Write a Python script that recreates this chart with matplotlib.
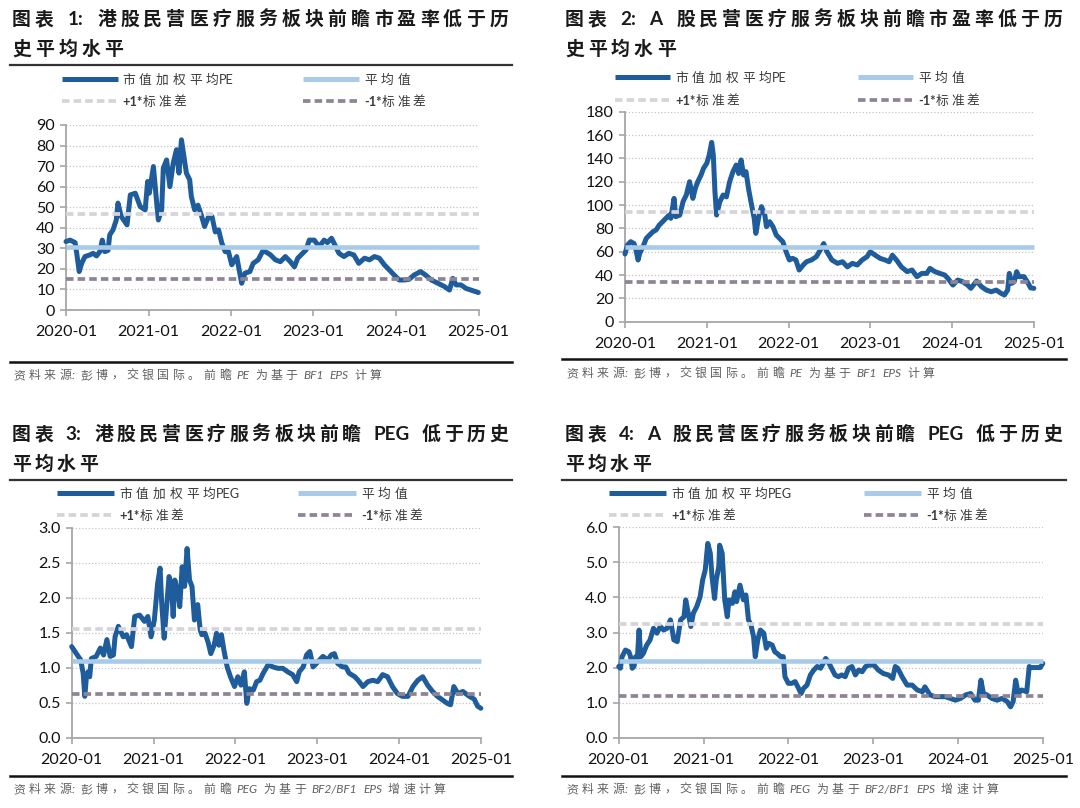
import re
import numpy as np
import pandas as pd
import matplotlib
matplotlib.use("Agg")
import matplotlib.pyplot as plt
from matplotlib.lines import Line2D
from matplotlib.ticker import MultipleLocator, FormatStrFormatter

# ---------------- data (time in years after 2020-01) ----------------
hk_pe_t = [0.00,0.05,0.11,0.13,0.16,0.19,0.23,0.29,0.33,0.37,
           0.41,0.44,0.47,0.51,0.53,0.57,0.61,0.63,0.67,0.74,
           0.78,0.84,0.90,0.96,0.99,1.01,1.06,1.10,1.12,1.16,
           1.18,1.22,1.26,1.30,1.34,1.37,1.40,1.43,1.46,1.50,
           1.52,1.56,1.60,1.64,1.68,1.73,1.77,1.81,1.85,1.89,
           1.93,1.97,2.01,2.07,2.13,2.17,2.23,2.27,2.33,2.39,
           2.45,2.48,2.54,2.60,2.66,2.72,2.77,2.81,2.87,2.91,
           2.95,3.01,3.07,3.13,3.17,3.22,3.26,3.31,3.37,3.43,
           3.49,3.55,3.62,3.68,3.74,3.80,3.86,3.92,3.98,4.04,
           4.10,4.16,4.22,4.30,4.36,4.43,4.51,4.59,4.65,4.69,
           4.73,4.79,4.85,4.91,5.00]
hk_pe = [33.3,34,32.8,27.6,18.7,22.7,26,26.8,27.6,26.3,
         28.4,34,28.4,29,36.5,39,43.8,52,45.5,41.4,
         56,56.8,50.3,48.7,62.5,56.8,69.8,52,43.8,48.7,
         69,73,60,71.4,78,66.6,82.8,74.7,66.6,63.3,
         55.2,48.7,51,46.3,40.6,45.5,45.5,38,39,32.5,
         28.4,28.4,22,26,13,17.9,18.7,22.7,24.4,29,
         27.6,26.8,24.4,23.5,26,23.5,21,25.2,27.6,29.2,
         34,34,30.8,34,32.8,34.9,31.7,27.6,26,27.6,
         26.8,22.7,25.2,24.4,26,25.2,22,19.5,17,14.6,
         14.6,14.9,17,18.7,17,14.6,13,11.4,9.7,15.4,
         12.2,12.2,10.5,9.7,8.5]
hk_pe_stats = [30.7, 46.8, 15.1]   # mean, +1 std, -1 std

a_pe_t = [0.00,0.03,0.07,0.11,0.13,0.16,0.18,0.22,0.26,0.30,
          0.34,0.38,0.42,0.46,0.50,0.54,0.56,0.60,0.62,0.67,
          0.71,0.75,0.79,0.83,0.86,0.89,0.93,0.96,1.00,1.03,
          1.06,1.08,1.10,1.12,1.16,1.20,1.24,1.28,1.32,1.36,
          1.39,1.42,1.45,1.48,1.51,1.54,1.58,1.60,1.64,1.67,
          1.71,1.73,1.77,1.81,1.85,1.89,1.93,1.97,2.01,2.05,
          2.09,2.13,2.18,2.22,2.28,2.34,2.40,
          2.43,2.47,2.53,2.60,2.66,2.72,2.78,2.84,2.90,2.96,
          3.00,3.06,3.12,3.18,3.23,3.27,3.32,3.38,3.45,3.51,
          3.57,3.63,3.69,3.73,3.79,3.85,3.91,3.95,4.01,4.07,
          4.13,4.19,4.23,4.30,4.36,4.42,4.48,4.54,4.60,4.64,
          4.68,4.70,4.73,4.76,4.79,4.82,4.88,4.93,4.96,5.00]
a_pe = [58,65.7,68.6,67,62.9,52.9,58.6,64.3,71.4,74.3,
        77,78.6,82.9,85.7,88.6,91.4,88.6,105.7,90,91.4,
        102.9,108.6,120,105.7,114.3,120,125.7,131.4,135.7,142.9,
        153.7,142.9,111.4,91.4,102.9,108.6,107,120,128.6,134.3,
        127,138.6,125.7,128.6,114.3,102.9,88.6,75.7,91.4,98.6,
        91.4,81.4,85.7,81.4,74.3,71.4,68.6,60,52.9,54.3,
        52.9,44.3,48.6,51.4,52.9,55.7,62.9,
        67,60,52.9,50,51.4,47,50,48.6,52.9,55.7,
        60,57,54.3,52.9,51.4,57,52.9,47,42.9,44.3,
        38.6,41.4,41.4,45.7,42.9,41.4,40,37.1,31.4,35.7,
        34.3,31.4,28.6,34.9,30,27.1,25.7,27.1,24.3,22.9,
        27.1,41.4,32.9,34.3,42.9,38.6,38.6,33,29,28.6]
a_pe_stats = [64.3, 94.3, 34.3]

hk_peg_t = [0.00,0.04,0.08,0.11,0.14,0.16,0.18,0.20,0.22,0.24,
            0.30,0.35,0.39,0.43,0.47,0.51,0.53,0.57,0.63,0.67,
            0.73,0.77,0.83,0.89,0.93,0.97,1.01,1.05,1.08,1.10,
            1.13,1.16,1.19,1.22,1.24,1.26,1.30,1.32,1.35,1.38,
            1.41,1.44,1.47,1.50,1.54,1.57,1.59,1.63,1.67,1.70,
            1.74,1.77,1.80,1.83,1.86,1.90,1.94,1.99,2.03,2.07,
            2.11,2.14,2.17,2.22,2.26,2.30,2.34,2.40,2.46,2.52,
            2.58,2.64,2.70,2.75,2.78,2.83,2.87,2.91,2.95,2.99,
            3.03,3.07,3.13,3.17,3.21,3.25,3.31,3.35,3.39,3.46,
            3.50,3.56,3.62,3.68,3.74,3.80,3.86,3.92,3.98,4.04,
            4.11,4.17,4.23,4.29,4.35,4.41,4.47,4.53,4.59,4.63,
            4.67,4.72,4.78,4.86,4.92,4.96,5.00]
hk_peg = [1.30,1.23,1.16,1.11,0.92,0.59,0.87,0.94,0.87,1.13,
          1.16,1.28,1.18,1.40,1.16,1.18,1.44,1.59,1.44,1.47,
          1.30,1.73,1.75,1.66,1.73,1.44,1.68,2.20,2.42,1.92,
          1.42,1.87,2.30,2.16,1.73,2.25,2.06,1.87,2.44,2.16,
          2.70,2.25,2.16,1.68,1.90,1.54,1.47,1.49,1.35,1.20,
          1.32,1.49,1.32,1.47,1.25,1.01,0.87,0.73,0.87,0.75,
          0.94,0.49,0.70,0.68,0.80,0.82,0.92,1.04,1.01,0.99,
          0.99,0.94,0.90,0.80,0.94,1.01,1.18,1.23,1.01,1.06,
          1.11,1.16,1.11,1.18,1.20,1.06,1.01,1.01,0.92,0.87,
          0.82,0.73,0.80,0.82,0.80,0.90,0.87,0.73,0.63,0.59,
          0.59,0.73,0.82,0.87,0.75,0.66,0.59,0.54,0.49,0.47,
          0.73,0.63,0.66,0.59,0.55,0.45,0.42]
hk_peg_stats = [1.10, 1.55, 0.63]

a_peg_t = [0.00,0.02,0.04,0.08,0.12,0.14,0.16,0.18,0.20,0.22,
           0.24,0.26,0.29,0.33,0.37,0.41,0.45,0.49,0.53,0.57,
           0.61,0.65,0.69,0.73,0.77,0.79,0.82,0.85,0.88,0.92,
           0.96,0.99,1.02,1.05,1.08,1.10,1.13,1.15,1.18,1.19,
           1.22,1.25,1.28,1.30,1.34,1.37,1.39,1.43,1.47,1.50,
           1.53,1.56,1.59,1.61,1.64,1.67,1.71,1.74,1.77,1.81,
           1.84,1.87,1.91,1.94,1.96,2.00,2.04,2.08,2.12,2.15,
           2.18,2.22,2.26,2.30,2.34,2.38,2.42,2.44,2.48,2.51,
           2.55,2.59,2.63,2.67,2.71,2.75,2.79,2.83,2.87,2.91,
           2.95,3.01,3.06,3.12,3.18,3.23,3.26,3.29,3.34,3.40,
           3.46,3.52,3.58,3.61,3.67,3.73,3.79,3.85,3.91,3.97,
           4.03,4.09,4.15,4.20,4.24,4.27,4.30,4.34,4.40,4.46,
           4.52,4.58,4.62,4.65,4.68,4.71,4.75,4.81,4.84,
           4.86,4.97,5.00]
a_peg = [2.03,1.98,2.31,2.50,2.45,2.31,1.98,2.03,2.31,2.26,
         3.07,2.31,2.40,2.64,2.79,3.12,2.98,3.17,3.07,3.12,
         3.36,2.79,2.74,3.36,3.45,3.93,3.55,3.17,3.55,3.74,
         4.02,4.50,4.78,5.54,5.26,4.59,3.97,4.50,4.88,5.49,
         5.26,3.93,3.45,3.93,3.83,4.16,3.88,4.35,3.93,4.07,
         3.36,3.21,2.88,2.31,2.79,3.07,2.98,2.55,2.69,2.64,
         2.45,2.40,2.31,2.31,1.74,1.55,1.55,1.60,1.41,1.26,
         1.41,1.50,1.79,1.93,2.03,1.98,2.17,2.26,2.12,1.98,
         1.79,1.74,1.79,1.74,1.98,2.03,1.79,1.93,1.88,2.03,
         2.07,2.07,1.93,1.83,1.79,1.69,2.03,1.98,1.74,1.50,
         1.50,1.36,1.31,1.45,1.22,1.17,1.17,1.17,1.12,1.07,
         1.12,1.22,1.26,1.07,1.07,1.64,1.26,1.22,1.12,1.07,
         1.12,1.03,0.88,1.03,1.64,1.26,1.36,1.31,2.03,
         2.00,2.00,2.12]
a_peg_stats = [2.20, 3.23, 1.19]

titles = [("图表 1: 港股民营医疗服务板块前瞻市盈率低于历", "史平均水平"),
          ("图表 2: A 股民营医疗服务板块前瞻市盈率低于历", "史平均水平"),
          ("图表 3: 港股民营医疗服务板块前瞻 PEG 低于历史", "平均水平"),
          ("图表 4: A 股民营医疗服务板块前瞻 PEG 低于历史", "平均水平")]
series_labels = ["市值加权平均PE", "市值加权平均PE", "市值加权平均PEG", "市值加权平均PEG"]
stat_labels = ["平均值", "+1*标准差", "-1*标准差"]
notes = ["资料来源: 彭博，交银国际。前瞻 PE 为基于 BF1 EPS 计算",
         "资料来源: 彭博，交银国际。前瞻 PE 为基于 BF1 EPS 计算",
         "资料来源: 彭博，交银国际。前瞻 PEG 为基于 BF2/BF1 EPS 增速计算",
         "资料来源: 彭博，交银国际。前瞻 PEG 为基于 BF2/BF1 EPS 增速计算"]
year_ticks = ["2020-01", "2021-01", "2022-01", "2023-01", "2024-01", "2025-01"]

# ---------------- styling ----------------
W, H, DPI = 1080, 808, 100
CJK = "Noto Sans CJK SC"
LAT = "Lato"
C_MAIN = "#1F5C9C"
C_MEAN = "#A9CBEA"
C_UP = "#D6D4D9"
C_DN = "#8E8594"
C_AX = "#A6A6A6"

fig = plt.figure(figsize=(W / DPI, H / DPI), dpi=DPI)
fig.patch.set_facecolor("white")
renderer = fig.canvas.get_renderer()

CJK_RE = re.compile(r"[\u2e80-\uffff]| |[^\u2e80-\uffff ]+")


def is_cjk(tok):
    return ord(tok[0]) >= 0x2E80


def token_widths(tokens, size, lat_kw, space):
    em = size * DPI / 72.0
    ws = []
    for tok in tokens:
        if tok == " ":
            ws.append(space * em)
        elif is_cjk(tok):
            ws.append(em)
        else:
            t = fig.text(0, 0, tok, fontsize=size, family=[LAT, CJK], **lat_kw)
            ws.append(t.get_window_extent(renderer).width)
            t.remove()
    return ws


def spaced_text(x, y, s, size, track=None, end=None, color="#222222",
                cjk_kw=None, lat_kw=None, space=0.28, lat_track=None):
    cjk_kw = cjk_kw or {}
    lat_kw = lat_kw or {}
    tokens = CJK_RE.findall(s)
    ws = token_widths(tokens, size, lat_kw, space)
    if end is not None:
        track = (end - x - sum(ws)) / (len(tokens) - 1)
    cx = x
    prev = None
    for tok, w in zip(tokens, ws):
        if prev is not None:
            if lat_track is not None and (not is_cjk(tok) or not is_cjk(prev)):
                cx += lat_track
            else:
                cx += track
        if tok != " ":
            if is_cjk(tok):
                fig.text(cx / W, 1 - y / H, tok, fontsize=size, family=[CJK, "DejaVu Sans"],
                         color=color, ha="left", va="baseline", **cjk_kw)
            else:
                fig.text(cx / W, 1 - y / H, tok, fontsize=size, family=[LAT, CJK],
                         color=color, ha="left", va="baseline", **lat_kw)
        cx += w
        prev = tok
    return track


def hline(x0, x1, y, **kw):
    fig.add_artist(Line2D([x0 / W, x1 / W], [1 - y / H, 1 - y / H],
                          transform=fig.transFigure, **kw))


def to_dates(t):
    return pd.Timestamp("2020-01-01") + pd.to_timedelta(np.array(t) * 365.25, unit="D")


panels = [
    dict(t=hk_pe_t, v=hk_pe, st=hk_pe_stats, ymax=90, step=10, fmt="%d",
         ax=(66, 478.5, 125, 310), x0=12, xe=508, sep=(10, 512), ty=25, sep1=65,
         leg=(62, 118, 122, 303, 359, 364), ly=(79, 101), sep2=362, ny=379),
    dict(t=a_pe_t, v=a_pe, st=a_pe_stats, ymax=180, step=20, fmt="%d",
         ax=(625, 1034, 111.7, 321.7), x0=565, xe=1062, sep=(562, 1066), ty=25, sep1=None,
         leg=(615, 670, 675, 858, 913, 918), ly=(77, 100), sep2=359, ny=377),
    dict(t=hk_peg_t, v=hk_peg, st=hk_peg_stats, ymax=3.0, step=0.5, fmt="%.1f",
         ax=(71.7, 481, 527.5, 737.7), x0=12, xe=508, sep=(10, 512), ty=440, sep1=480,
         leg=(57, 114, 119, 298, 356, 361), ly=(493, 515), sep2=776, ny=793),
    dict(t=a_peg_t, v=a_peg, st=a_peg_stats, ymax=6.0, step=1.0, fmt="%.1f",
         ax=(618.7, 1043, 527.3, 737.7), x0=565, xe=1062, sep=(562, 1066), ty=440, sep1=480,
         leg=(609, 666, 671, 864, 921, 926), ly=(493, 515), sep2=776, ny=793),
]

TITLE_SIZE = 13.6
LEG_SIZE = 9.2
NOTE_SIZE = 8.6
DASH = (0, (2.0, 1.1))

for i, p in enumerate(panels):
    # ---- title (two lines, letter-spaced, first line justified)
    tr = spaced_text(p["x0"], p["ty"], titles[i][0], TITLE_SIZE, end=p["xe"], color="#1a1a1a",
                     cjk_kw=dict(weight="bold"), lat_kw=dict(weight="bold"))
    spaced_text(p["x0"], p["ty"] + 30, titles[i][1], TITLE_SIZE, track=tr, color="#1a1a1a",
                cjk_kw=dict(weight="bold"), lat_kw=dict(weight="bold"))
    if p["sep1"] is not None:
        hline(p["sep"][0], p["sep"][1], p["sep1"], color="#333333", lw=1.6)

    # ---- legend
    l0, l1, lt, m0, m1, mt = p["leg"]
    r1, r2 = p["ly"]
    hline(l0, l1, r1, color=C_MAIN, lw=3.6, solid_capstyle="butt")
    hline(m0, m1, r1, color=C_MEAN, lw=3.6, solid_capstyle="butt")
    hline(l0, l1, r2, color=C_UP, lw=2.7, ls=DASH, dash_capstyle="butt")
    hline(m0, m1, r2, color=C_DN, lw=2.7, ls=DASH, dash_capstyle="butt")
    spaced_text(lt, r1 + 4.6, series_labels[i], LEG_SIZE, track=4.0, lat_track=0.5,
                color="#3a3a3a")
    spaced_text(mt, r1 + 4.6, stat_labels[0], LEG_SIZE, track=4.0, color="#3a3a3a")
    spaced_text(lt, r2 + 4.6, stat_labels[1], LEG_SIZE, track=2.5, lat_track=0.5,
                color="#3a3a3a", lat_kw=dict(weight="bold"))
    spaced_text(mt, r2 + 4.6, stat_labels[2], LEG_SIZE, track=2.5, lat_track=0.5,
                color="#3a3a3a", lat_kw=dict(weight="bold"))

    # ---- axes
    xl, xr, yt, yb = p["ax"]
    ax = fig.add_axes([xl / W, 1 - yb / H, (xr - xl) / W, (yb - yt) / H])
    d = to_dates(p["t"])
    x_start, x_end = pd.Timestamp(year_ticks[0] + "-01"), pd.Timestamp(year_ticks[-1] + "-01")
    ax.plot(d, p["v"], color=C_MAIN, lw=3.6, solid_joinstyle="round",
            solid_capstyle="round", zorder=3)
    mean, up, dn = p["st"]
    ax.plot([x_start, x_end], [mean, mean], color=C_MEAN, lw=3.3, zorder=4, solid_capstyle="butt")
    ax.plot([x_start, x_end], [up, up], color=C_UP, lw=2.7, ls=DASH, zorder=4)
    ax.plot([x_start, x_end], [dn, dn], color=C_DN, lw=2.7, ls=DASH, zorder=4)

    ax.set_xlim(x_start, x_end)
    ax.set_ylim(0, p["ymax"])
    ax.yaxis.set_major_locator(MultipleLocator(p["step"]))
    ax.yaxis.set_major_formatter(FormatStrFormatter(p["fmt"]))
    ax.set_xticks([pd.Timestamp(s + "-01") for s in year_ticks])
    ax.set_xticklabels(year_ticks)
    ax.grid(axis="y", color="#C4C4C4", lw=0.9, ls=(0, (1, 1.6)))
    ax.set_axisbelow(True)
    for s in ("top", "right"):
        ax.spines[s].set_visible(False)
    for s in ("left", "bottom"):
        ax.spines[s].set_color(C_AX)
        ax.spines[s].set_linewidth(1.3)
    ax.tick_params(axis="both", colors=C_AX, length=4, width=1.2, direction="out",
                   labelsize=11.5, labelcolor="#111111", pad=4)
    ax.tick_params(axis="x", pad=7)
    for lab in ax.get_xticklabels() + ax.get_yticklabels():
        lab.set_family([LAT, "DejaVu Sans"])
    for ln in ax.lines:
        ln.set_clip_on(False)

    # ---- bottom separator + note
    hline(p["sep"][0], p["sep"][1], p["sep2"], color="#111111", lw=1.8)
    spaced_text(p["x0"] + 1, p["ny"], notes[i], NOTE_SIZE, track=3.4, lat_track=0.8,
                space=0.35, color="#606060", lat_kw=dict(style="italic"))

fig.savefig("out.png", dpi=DPI, facecolor="white")
